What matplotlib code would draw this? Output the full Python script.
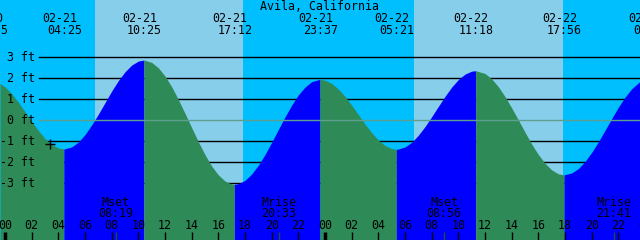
import matplotlib
matplotlib.use("Agg")
import matplotlib.pyplot as plt

# Tide level (ft), hours from 02-21 00:00
tide_hours = [-0.375, 0, 0.5, 1, 1.5, 2, 2.5, 3, 3.5, 4, 4.417, 5, 5.5, 6, 6.5, 7, 7.5,
              8, 8.5, 9, 9.5, 10, 10.417, 11, 11.5, 12, 12.5, 13, 13.5, 14, 14.5, 15,
              15.5, 16, 16.5, 17, 17.2, 17.5, 18, 18.5, 19, 19.5, 20, 20.5, 21, 21.5,
              22, 22.5, 23, 23.617, 24, 24.5, 25, 25.5, 26, 26.5, 27, 27.5, 28, 28.5,
              29, 29.35, 29.5, 30, 30.5, 31, 31.5, 32, 32.5, 33, 33.5, 34, 34.5, 35,
              35.3, 36, 36.5, 37, 37.5, 38, 38.5, 39, 39.5, 40, 40.5, 41, 41.5, 41.933,
              42.5, 43, 43.5, 44, 44.5, 45, 45.5, 46, 46.5, 47, 47.625]
tide_ft = [1.76, 1.59, 1.27, 0.86, 0.41, -0.05, -0.49, -0.87, -1.15, -1.32, -1.37, -1.27,
           -1.04, -0.68, -0.22, 0.29, 0.84, 1.39, 1.89, 2.31, 2.63, 2.82, 2.87, 2.76,
           2.50, 2.11, 1.60, 0.99, 0.33, -0.35, -1.02, -1.64, -2.18, -2.60, -2.89, -3.04,
           -3.05, -3.02, -2.86, -2.56, -2.14, -1.63, -1.05, -0.44, 0.16, 0.72, 1.21,
           1.58, 1.84, 1.95, 1.91, 1.76, 1.49, 1.14, 0.72, 0.27, -0.18, -0.59, -0.94,
           -1.20, -1.35, -1.38, -1.37, -1.27, -1.05, -0.71, -0.30, 0.17, 0.66, 1.14,
           1.58, 1.94, 2.20, 2.34, 2.36, 2.23, 1.97, 1.60, 1.13, 0.59, 0.02, -0.57,
           -1.13, -1.63, -2.05, -2.36, -2.55, -2.60, -2.51, -2.30, -1.96, -1.53, -1.03,
           -0.48, 0.08, 0.62, 1.10, 1.50, 1.85]

# High / low tide events shown along the top
event_dates = ["02-20", "02-21", "02-21", "02-21", "02-21", "02-22", "02-22", "02-22", "02-23"]
event_times = ["22:55", "04:25", "10:25", "17:12", "23:37", "05:21", "11:18", "17:56", "00:23"]

# Moon events along the bottom
moon_names = ["Mset", "Mrise", "Mset", "Mrise"]
moon_dates = ["02-21", "02-21", "02-22", "02-22"]
moon_times = ["08:19", "20:33", "08:56", "21:41"]

# Daylight periods (sunrise, sunset)
sun_dates = ["02-21", "02-22"]
sunrise = ["06:45", "06:40"]
sunset = ["17:51", "17:52"]

ft_levels = [3, 2, 1, 0, -1, -2, -3]
now_hour, now_ft = 3.375, -1.12

NIGHT = "#00BFFF"
DAY = "#87CEEB"
FALLING = "#2E8B57"
RISING = "#0000FF"
ZERO = "#5F9F8F"
FONT = dict(family="DejaVu Sans Mono", size=8.4, color="black")


def to_hours(date, hhmm):
    day = int(date.split("-")[1]) - 21
    h, m = hhmm.split(":")
    return day * 24 + int(h) + int(m) / 60


def ypx(p):
    # pixel row (from top) -> axes fraction
    return 1 - p / 240


fig = plt.figure(figsize=(6.4, 2.4), dpi=100)
ax = fig.add_axes([0, 0, 1, 1])
ax.set_xlim(-0.375, 47.625)
ax.set_ylim((120.3 - 240) / 21, 120.3 / 21)
ax.axis("off")
xt = ax.get_xaxis_transform()

# sky
ax.axvspan(-0.375, 47.625, color=NIGHT, lw=0, zorder=0)
for d, r, s in zip(sun_dates, sunrise, sunset):
    ax.axvspan(to_hours(d, r), to_hours(d, s), color=DAY, lw=0, zorder=0)

# depth lines, hidden behind the water
for lv in ft_levels:
    if lv != 0:
        ax.axhline(lv, xmin=39 / 640, xmax=1, color="black", lw=1, zorder=1)

# water, blue while rising and green while falling
bottom = ax.get_ylim()[0]
steps = [b > a for a, b in zip(tide_ft[:-1], tide_ft[1:])]
start = 0
for i in range(1, len(steps) + 1):
    if i == len(steps) or steps[i] != steps[i - 1]:
        col = RISING if steps[i - 1] else FALLING
        ax.fill_between(tide_hours[start:i + 1], tide_ft[start:i + 1], bottom,
                        color=col, lw=0, antialiased=False, zorder=2)
        start = i

ax.axhline(0, xmin=39 / 640, xmax=1, color=ZERO, lw=1, zorder=3)
ax.plot([now_hour], [now_ft], marker="+", color="black", ms=7, mew=1, zorder=4)

# depth labels
for lv in ft_levels:
    base = 120.3 - 21 * lv + 3.7
    ax.text(35 / 640, ypx(base), f"{lv} ft", transform=ax.transAxes,
            ha="right", va="baseline", zorder=5, **FONT)

ax.text(0.5, ypx(10), "Avila, California", transform=ax.transAxes,
        ha="center", va="baseline", zorder=5, **FONT)

for d, t in zip(event_dates, event_times):
    hr = to_hours(d, t)
    ax.annotate(d, (hr, ypx(21.7)), xycoords=xt, xytext=(-4.5, 0),
                textcoords="offset pixels", ha="center", va="baseline", zorder=5, **FONT)
    ax.annotate(t, (hr, ypx(34)), xycoords=xt, xytext=(0.5, 0),
                textcoords="offset pixels", ha="center", va="baseline", zorder=5, **FONT)

for n, d, t in zip(moon_names, moon_dates, moon_times):
    hr = to_hours(d, t)
    ax.text(hr, ypx(206), n, transform=xt, ha="center", va="baseline", zorder=5, **FONT)
    ax.text(hr, ypx(217.3), t, transform=xt, ha="center", va="baseline", zorder=5, **FONT)
    ax.vlines(hr, ypx(240), ypx(232), transform=xt, color="#1F4F2F", lw=1, zorder=5)

# hour axis
for hr in range(0, 49, 2):
    ax.text(hr, ypx(229.3), f"{hr % 24:02d}", transform=xt,
            ha="center", va="baseline", zorder=5, **FONT)
    ax.vlines(hr, ypx(240), ypx(232), transform=xt, color="black",
              lw=2.5 if hr % 24 == 0 else 1, zorder=5)

fig.savefig("out.png", dpi=100)
